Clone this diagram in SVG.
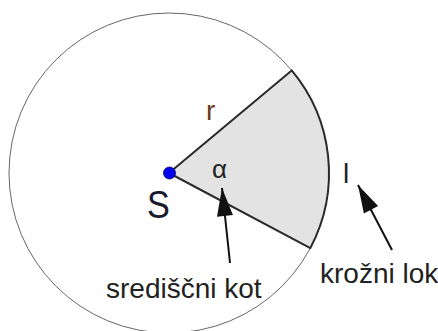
<svg xmlns="http://www.w3.org/2000/svg" width="438" height="331" viewBox="0 0 438 331">
<style>
.lbl{font-family:"Liberation Sans",Arial,sans-serif;font-size:28px;fill:#222}
.arrow{stroke:#111;stroke-width:2;fill:none}
</style>
<defs>
<marker id="head" markerUnits="userSpaceOnUse" markerWidth="30" markerHeight="18" refX="28" refY="8" orient="auto" overflow="visible">
<path d="M28,8 L0,0 L0,16 Z" fill="#111"/>
</marker>
</defs>
<rect width="438" height="331" fill="#fff"/>
<g id="circle">
<circle cx="169" cy="173" r="160" fill="none" stroke="#666" stroke-width="1"/>
</g>
<g id="sector">
<path d="M169,173 L291.7,70.4 A160,160 0 0 1 310.3,248.1 Z" fill="#e3e3e3" stroke="#2a2a2a" stroke-width="2" stroke-linejoin="round"/>
</g>
<g id="center-S">
<circle cx="169.5" cy="173" r="6" fill="#0000ee" stroke="#000066" stroke-width="0.8"/>
<text x="147" y="218" class="lbl" style="font-size:38px;fill:#1a1a2e" transform="translate(147,0) scale(0.9,1) translate(-147,0)">S</text>
</g>
<g id="label-r">
<text x="206" y="120" class="lbl" style="fill:#6a3a22">r</text>
</g>
<g id="label-alpha">
<text x="212" y="178" class="lbl" style="font-size:26px">α</text>
</g>
<g id="label-l">
<text x="343" y="183" class="lbl">l</text>
</g>
<g id="label-central-angle">
<text x="106" y="298" class="lbl">središčni kot</text>
</g>
<g id="label-arc">
<text x="320" y="283" class="lbl">krožni lok</text>
</g>
<g id="connectors">
<line class="arrow" x1="230" y1="263" x2="222" y2="188" marker-end="url(#head)"/>
<line class="arrow" x1="392" y1="250" x2="358" y2="185" marker-end="url(#head)"/>
</g>
</svg>
